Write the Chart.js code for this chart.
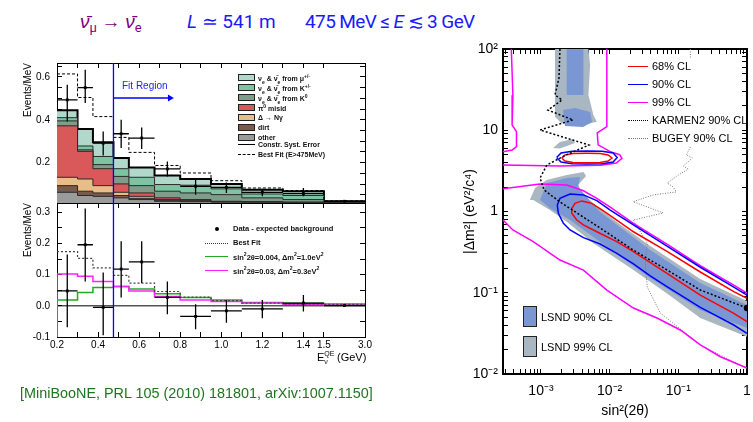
<!DOCTYPE html>
<html>
<head>
<meta charset="utf-8">
<script src="https://cdn.jsdelivr.net/npm/chart.js@4.4.0/dist/chart.umd.min.js"></script>
<style>
  html, body { margin: 0; padding: 0; background: #fff; }
  body { width: 753px; height: 422px; position: relative; overflow: hidden; font-family: 'Liberation Sans', Arial, sans-serif; }
  canvas { position: absolute; }
  .abs { position: absolute; white-space: nowrap; line-height: 1; }
  .ttl { font-family: Roboto, 'Liberation Sans', sans-serif; font-size: 19px; top: 12px; }
  .ttl sub { font-size: 13px; vertical-align: -4px; }
  .leg7 { font-weight: bold; font-size: 7px; color: #111; }
  .leg7 sub, .leg7 sup { font-size: 5px; }
  .sw { position: absolute; width: 17px; height: 7px; box-sizing: border-box; border: 1px solid #222; }
  .ln { position: absolute; height: 0; }
  .leg11 { font-size: 11px; color: #000; }
  .box { position: absolute; width: 14px; height: 21px; box-sizing: border-box; border: 1.5px solid #222; }
</style>
</head>
<body>

<canvas id="histChart" width="380" height="160" style="left:0;top:50px;width:380px;height:160px"></canvas>
<canvas id="excessChart" width="380" height="180" style="left:0;top:195px;width:380px;height:180px"></canvas>
<canvas id="contourChart" width="373" height="382" style="left:380px;top:40px;width:373px;height:382px"></canvas>

<!-- title line -->
<div class="abs ttl" style="left:80px;color:#800080"><i>ν̄</i><sub>μ</sub> → <i>ν̄</i><sub>e</sub></div>
<div class="abs ttl" style="left:187px;color:#1a1aff"><i>L</i> ≃ 541 m</div>
<div class="abs ttl" style="left:305px;color:#1a1aff;letter-spacing:-0.6px">475 MeV ≤ <i>E</i> ≲ 3 GeV</div>

<!-- top-left legend -->
<div class="sw" style="left:238px;top:74px;background:#b2d8cb"></div>
<div class="sw" style="left:238px;top:84px;background:#7cc4a2"></div>
<div class="sw" style="left:238px;top:94px;background:#7e9e8a"></div>
<div class="sw" style="left:238px;top:104px;background:#d9595b"></div>
<div class="sw" style="left:238px;top:114px;background:#e8bd86"></div>
<div class="sw" style="left:238px;top:124px;background:#7b5a4a"></div>
<div class="sw" style="left:238px;top:134px;background:#9b9b9b"></div>
<div class="ln" style="left:238px;top:144px;width:17px;border-top:1.5px solid #000"></div>
<div class="ln" style="left:238px;top:154px;width:17px;border-top:1px dashed #000"></div>
<div class="abs leg7" style="left:258px;top:74px">ν<sub>e</sub> &amp; ν̄<sub>e</sub> from μ<sup>+/-</sup></div>
<div class="abs leg7" style="left:258px;top:84px">ν<sub>e</sub> &amp; ν̄<sub>e</sub> from K<sup>+/-</sup></div>
<div class="abs leg7" style="left:258px;top:94px">ν<sub>e</sub> &amp; ν̄<sub>e</sub> from K<sup>0</sup></div>
<div class="abs leg7" style="left:258px;top:104px">π<sup>0</sup> misid</div>
<div class="abs leg7" style="left:258px;top:114px">Δ → Nγ</div>
<div class="abs leg7" style="left:258px;top:124px">dirt</div>
<div class="abs leg7" style="left:258px;top:134px">other</div>
<div class="abs leg7" style="left:258px;top:141px">Constr. Syst. Error</div>
<div class="abs leg7" style="left:258px;top:151px">Best Fit (E&gt;475MeV)</div>

<div class="abs" style="left:122px;top:81px;font-size:10px;color:#2222ff">Fit Region</div>

<!-- bottom-left legend -->
<div class="abs" style="left:215px;top:227px;width:4px;height:4px;border-radius:2px;background:#000"></div>
<div class="ln" style="left:205px;top:243px;width:23px;border-top:1.2px dotted #333"></div>
<div class="ln" style="left:205px;top:256px;width:23px;border-top:1.5px solid #22aa22"></div>
<div class="ln" style="left:205px;top:270px;width:23px;border-top:1.5px solid #ff22ff"></div>
<div class="abs leg7" style="left:233px;top:225px;font-size:7.5px">Data - expected background</div>
<div class="abs leg7" style="left:233px;top:239px;font-size:7.5px">Best Fit</div>
<div class="abs leg7" style="left:233px;top:252px;font-size:7.5px">sin<sup>2</sup>2θ=0.004, Δm<sup>2</sup>=1.0eV<sup>2</sup></div>
<div class="abs leg7" style="left:233px;top:266px;font-size:7.5px">sin<sup>2</sup>2θ=0.03, Δm<sup>2</sup>=0.3eV<sup>2</sup></div>

<div class="abs" style="left:317px;top:352px;font-size:11px">E<span style="display:inline-block;vertical-align:-3px;font-size:7px;line-height:7px;position:relative"><span style="position:absolute;top:-8px;left:0">QE</span>ν</span>&nbsp;&nbsp;&nbsp;(GeV)</div>

<div class="abs" style="left:20px;top:386px;font-size:14.4px;color:#207520">[MiniBooNE, PRL 105 (2010) 181801, arXiv:1007.1150]</div>

<!-- right legend -->
<div class="ln" style="left:628px;top:66px;width:20px;border-top:1.5px solid #ff0000"></div>
<div class="ln" style="left:628px;top:84px;width:20px;border-top:1.5px solid #0000ff"></div>
<div class="ln" style="left:628px;top:102px;width:20px;border-top:1.5px solid #ff00ff"></div>
<div class="ln" style="left:628px;top:120px;width:20px;border-top:1.5px dotted #000"></div>
<div class="ln" style="left:628px;top:138px;width:20px;border-top:1px dotted #777"></div>
<div class="abs leg11" style="left:652px;top:61px">68% CL</div>
<div class="abs leg11" style="left:652px;top:79px">90% CL</div>
<div class="abs leg11" style="left:652px;top:97px">99% CL</div>
<div class="abs leg11" style="left:652px;top:115px">KARMEN2 90% CL</div>
<div class="abs leg11" style="left:652px;top:133px">BUGEY 90% CL</div>
<div class="box" style="left:523px;top:306px;background:#7b97d3"></div>
<div class="box" style="left:523px;top:336px;background:#a9b7c3"></div>
<div class="abs leg11" style="left:541px;top:312px">LSND 90% CL</div>
<div class="abs leg11" style="left:541px;top:342px">LSND 99% CL</div>

<script>
// ---------- left panels: E_QE bins (GeV) ----------
const binEdges = [0.2, 0.3, 0.375, 0.475, 0.55, 0.675, 0.8, 0.95, 1.1, 1.3, 1.5, 3.0];

// predicted backgrounds, Events/MeV per bin (bottom of stack first)
const bkgOther = [0.062, 0.047, 0.043, 0.036, 0.028, 0.020, 0.018, 0.016, 0.015, 0.014, 0.010];
const bkgDirt  = [0.031, 0.020, 0.016, 0.011, 0.006, 0.003, 0.002, 0.001, 0.001, 0.001, 0.001];
const bkgDelta = [0.039, 0.057, 0.034, 0.015, 0.009, 0.005, 0.003, 0.001, 0.001, 0.000, 0.001];
const bkgPi0   = [0.240, 0.129, 0.079, 0.039, 0.016, 0.008, 0.005, 0.002, 0.001, 0.001, 0.001];
const bkgK0    = [0.023, 0.007, 0.019, 0.035, 0.034, 0.031, 0.031, 0.031, 0.018, 0.012, 0.003];
const bkgKpm   = [0.015, 0.018, 0.038, 0.036, 0.039, 0.031, 0.036, 0.027, 0.018, 0.019, 0.002];
const bkgMu    = [0.035, 0.079, 0.066, 0.050, 0.046, 0.042, 0.029, 0.023, 0.020, 0.020, 0.002];
const histBestFit = [0.614, 0.504, 0.415, 0.318, 0.248, 0.187, 0.152, 0.116, 0.082, 0.070, 0.022];

const histData   = [0.493, 0.550, 0.291, 0.335, 0.315, 0.171, 0.090, 0.085, 0.062, 0.056, 0.020];
const histDataHi = [0.563, 0.633, 0.346, 0.400, 0.364, 0.206, 0.129, 0.108, 0.078, 0.082, 0.025];
const histDataLo = [0.392, 0.478, 0.233, 0.268, 0.264, 0.136, 0.051, 0.059, 0.043, 0.043, 0.015];

// data minus expected background
const excessData   = [0.048, 0.196, -0.005, 0.118, 0.141, 0.027, -0.034, -0.016, -0.010, 0.009, 0.001];
const excessDataHi = [0.165, 0.312, 0.107, 0.207, 0.207, 0.078, 0.005, 0.019, 0.019, 0.035, 0.006];
const excessDataLo = [-0.069, 0.078, -0.094, 0.027, 0.073, -0.027, -0.075, -0.054, -0.040, -0.018, -0.004];
const excessBestFit = [0.174, 0.152, 0.122, 0.098, 0.073, 0.046, 0.028, 0.017, 0.009, 0.006, 0.005];
const excessGreen   = [0.019, 0.043, 0.059, 0.062, 0.054, 0.039, 0.027, 0.019, 0.011, 0.008, 0.006];
const excessMagenta = [0.102, 0.095, 0.078, 0.062, 0.048, 0.030, 0.019, 0.014, 0.009, 0.005, 0.003];

const fitThreshold = 0.475;
const fitArrowE = [0.475, 0.75];
const fitArrowLevel = 0.502;

const histYRange = [0.012, 0.665];
const excessYRange = [-0.1, 0.33];
const xTickLabels = [0.2, 0.4, 0.6, 0.8, 1.0, 1.2, 1.4, 1.5, 3.0];
const xTickMinor = [0.3, 0.5, 0.7, 0.9, 1.1, 1.3];
const histYTicks = [0.2, 0.4, 0.6];
const histYMinor = [0.05, 0.1, 0.15, 0.25, 0.3, 0.35, 0.45, 0.5, 0.55, 0.65];
const excessYTicks = [-0.1, 0.0, 0.1, 0.2, 0.3];
const excessYMinor = [-0.05, 0.05, 0.15, 0.25];

// ---------- right panel: sin^2(2θ), Δm^2 contours ----------
const mbRed68Ellipse = [[2.0e-3, 4.55], [2.24e-3, 4.96], [2.93e-3, 5.18], [4.65e-3, 5.2], [7.27e-3, 5.18], [9.5e-3, 4.96], [1.08e-2, 4.55], [9.5e-3, 4.18], [7.27e-3, 4.01], [4.65e-3, 3.99], [2.93e-3, 4.01], [2.24e-3, 4.18], [2.0e-3, 4.55]];
const mbRed68Band = [[1.0, 0.0855], [0.642, 0.103], [0.209, 0.18], [6.84e-2, 0.324], [2.22e-2, 0.563], [1.27e-2, 0.785], [8.12e-3, 1.02], [5.5e-3, 1.26], [3.93e-3, 1.35], [3.13e-3, 1.26], [2.81e-3, 1.09], [2.81e-3, 0.95], [3.32e-3, 0.785], [4.15e-3, 0.683], [6.5e-3, 0.564], [1.27e-2, 0.425], [2.22e-2, 0.32], [6.84e-2, 0.173], [0.209, 0.0937], [0.642, 0.0559], [1.0, 0.044]];
const mbBlue90Ellipse = [[1.69e-3, 4.62], [1.96e-3, 5.25], [2.84e-3, 5.52], [4.69e-3, 5.56], [7.77e-3, 5.52], [1.125e-2, 5.25], [1.287e-2, 4.62], [1.125e-2, 4.06], [7.77e-3, 3.86], [4.69e-3, 3.84], [2.84e-3, 3.86], [1.96e-3, 4.06], [1.69e-3, 4.62]];
const mbBlue90Band = [[1.0, 0.0937], [0.642, 0.117], [0.209, 0.206], [6.84e-2, 0.376], [2.22e-2, 0.683], [1.02e-2, 1.04], [6.5e-3, 1.36], [4.15e-3, 1.6], [2.65e-3, 1.64], [1.89e-3, 1.45], [1.73e-3, 1.2], [1.79e-3, 0.95], [2.12e-3, 0.716], [2.65e-3, 0.592], [4.15e-3, 0.476], [7.27e-3, 0.398], [1.27e-2, 0.306], [2.22e-2, 0.226], [3.9e-2, 0.161], [6.84e-2, 0.119], [0.209, 0.0662], [0.642, 0.0401], [1.0, 0.0317]];
const mb99Left = [[3.7e-4, 100], [3.9e-4, 27], [3.8e-4, 11.6], [4.4e-4, 9.6], [4.4e-4, 6.3], [3.8e-4, 5.7], [2.8e-4, 5.45]];
const mb99Right = [[9.1e-3, 100], [9.1e-3, 11.1], [6.6e-3, 9.25], [6.8e-3, 6.6], [1.02e-2, 5.45], [1.4e-2, 5.0], [1.51e-2, 4.51], [1.25e-2, 3.95], [7.3e-3, 3.7], [1.9e-3, 3.63], [2.8e-4, 3.74]];
const mb99Upper = [[2.8e-4, 1.9], [9.67e-4, 2.18], [2.37e-3, 2.12], [4.15e-3, 1.8], [6.5e-3, 1.45], [1.02e-2, 1.13], [2.22e-2, 0.716], [6.84e-2, 0.398], [0.209, 0.215], [0.642, 0.124], [1.0, 0.099]];
const mb99Lower = [[2.8e-4, 0.785], [3.9e-4, 0.592], [7.72e-4, 0.425], [1.89e-3, 0.253], [4.15e-3, 0.19], [9.1e-3, 0.108], [2.22e-2, 0.0649], [4.89e-2, 0.0489], [0.107, 0.0348], [0.209, 0.0228], [0.41, 0.0163], [1.0, 0.0118]];

const lsnd99Column = [[1.6e-3, 100], [1.6e-3, 14.7], [2.0e-3, 12.2], [4.15e-3, 11.6], [6.5e-3, 12.7], [5.8e-3, 15.4], [4.91e-3, 27.2], [5.19e-3, 63.5], [4.91e-3, 100], [1.6e-3, 100]];
const lsnd99Blob = [[1.5e-3, 6.05], [1.89e-3, 7.16], [2.93e-3, 7.8], [3.13e-3, 6.97], [1.89e-3, 5.97], [1.5e-3, 6.05]];
const lsnd99Band = [[6.9e-4, 1.39], [8.2e-4, 1.94], [1.21e-3, 2.44], [2.37e-3, 2.81], [4.15e-3, 3.06], [4.54e-3, 2.73], [3.47e-3, 2.12], [4.39e-3, 1.51], [1.27e-2, 0.743], [3.9e-2, 0.376], [0.209, 0.148], [1.0, 0.079], [1.0, 0.0288], [0.209, 0.0489], [6.84e-2, 0.098], [2.22e-2, 0.19], [5.8e-3, 0.406], [2.37e-3, 0.748], [1.35e-3, 1.04], [7.7e-4, 1.39], [6.9e-4, 1.39]];
const lsnd90Column = [[2.37e-3, 100], [4.15e-3, 100], [4.15e-3, 27.2], [2.37e-3, 27.2], [2.37e-3, 100]];
const lsnd90Blob = [[2.09e-3, 17.7], [3.13e-3, 18.8], [5.19e-3, 16.8], [5.55e-3, 12.6], [4.1e-3, 11.0], [2.24e-3, 11.3], [2.09e-3, 17.7]];
const lsnd90Band = [[9.7e-4, 1.39], [1.21e-3, 2.22], [2.37e-3, 2.58], [3.71e-3, 2.66], [3.47e-3, 2.0], [7.27e-3, 0.986], [3.9e-2, 0.336], [0.209, 0.132], [1.0, 0.0707], [1.0, 0.0368], [0.209, 0.0614], [3.9e-2, 0.152], [7.27e-3, 0.422], [2.65e-3, 0.785], [1.35e-3, 1.1], [9.7e-4, 1.39]];

const karmen90 = [[1.89e-3, 100], [1.83e-3, 44], [1.6e-3, 27.2], [2.03e-3, 23.6], [1.26e-3, 17.7], [2.93e-3, 13.4], [9.7e-4, 10.07], [5.0e-3, 6.58], [2.32e-3, 4.96], [1.22e-3, 3.74], [9.7e-4, 2.58], [1.11e-3, 1.84], [1.89e-3, 1.31], [7.27e-3, 0.627], [2.2e-2, 0.336], [6.9e-2, 0.19], [0.209, 0.108], [1.0, 0.0649]];
const bugeyTop = [[0.15, 100], [0.15, 77.5]];
const bugey90 = [[0.15, 6.22], [0.131, 4.96], [0.16, 4.55], [0.118, 3.63], [0.14, 3.33], [0.1, 2.81], [6.9e-2, 2.24], [8.45e-2, 2.0], [9.35e-2, 1.74], [4.32e-2, 1.6], [2.2e-2, 1.32], [6.04e-2, 0.96], [2.2e-2, 0.785], [3.53e-2, 0.409], [3.3e-2, 0.232], [3.53e-2, 0.118], [5.46e-2, 0.0564], [0.107, 0.0358], [0.209, 0.0228], [0.64, 0.0141], [1.0, 0.0119]];

const sinRange = [2.8e-4, 1.0];
const dmRange = [0.01, 100];
const sinTickLabels = { 0.001: '10⁻³', 0.01: '10⁻²', 0.1: '10⁻¹', 1: '1' };
const dmTickLabels = { 0.01: '10⁻²', 0.1: '10⁻¹', 1: '1', 10: '10', 100: '10²' };

// ---------- helpers ----------
const FONT = "'Liberation Sans', Arial, sans-serif";
Chart.defaults.font.family = FONT;
Chart.defaults.color = '#000';

// the last bin (1.5-3.0 GeV) is squeezed, like in the original plot
function axisE(e) { return e <= 1.5 ? e : 1.5 + (e - 1.5) * 0.2 / 1.5; }

function stepPoints(values) {
  const pts = values.map((v, i) => ({ x: axisE(binEdges[i]), y: v }));
  pts.push({ x: axisE(binEdges[binEdges.length - 1]), y: values[values.length - 1] });
  return pts;
}

function binCenter(i) { return axisE((binEdges[i] + binEdges[i + 1]) / 2); }

function errorBarPoints(values, lo, hi) {
  const pts = [];
  values.forEach((v, i) => {
    const c = binCenter(i);
    pts.push({ x: c, y: lo[i] }, { x: c, y: hi[i] }, { x: c, y: null });
    pts.push({ x: axisE(binEdges[i]), y: v }, { x: axisE(binEdges[i + 1]), y: v }, { x: axisE(binEdges[i + 1]), y: null });
  });
  return pts;
}

function pairs(arr) { return arr.map(([x, y]) => ({ x, y })); }

function labelFrom(map) {
  return (v) => {
    for (const k of Object.keys(map)) {
      if (Math.abs(v / Number(k) - 1) < 1e-6) return map[k];
    }
    return '';
  };
}

function makeAxis(o) {
  const vertical = o.position === 'left' || o.position === 'right';
  return {
    type: o.type || 'linear',
    position: o.position,
    min: o.min,
    max: o.max,
    bounds: 'data',
    grid: { display: true, drawOnChartArea: false, drawTicks: true, tickLength: -(o.tick || 5), color: '#000', lineWidth: 1 },
    border: { display: true, color: '#000', width: o.border || 1 },
    ticks: {
      display: !!o.label,
      autoSkip: false,
      maxRotation: 0,
      padding: o.pad || 0,
      color: '#000',
      font: { family: FONT, size: o.fontSize || 10 },
      callback: o.label || (() => ''),
    },
    title: o.title || { display: false },
    afterBuildTicks: (s) => { s.ticks = o.ticks.map((v) => ({ value: v })); },
    afterFit: (s) => {
      if (vertical) s.width = o.size; else s.height = o.size;
      // keep the plot frame exactly where the padding puts it
      s.paddingTop = 0; s.paddingBottom = 0; s.paddingLeft = 0; s.paddingRight = 0;
    },
  };
}

function baseOptions(padding, scales) {
  return {
    responsive: false,
    animation: false,
    events: [],
    layout: { padding },
    plugins: { legend: { display: false }, tooltip: { enabled: false } },
    scales,
  };
}

function lineSet(data, color, width, extra) {
  return Object.assign({
    type: 'line', data, borderColor: color, borderWidth: width,
    backgroundColor: color, pointRadius: 0, fill: false, tension: 0,
  }, extra || {});
}

const xPos = [...xTickLabels, ...xTickMinor].map(axisE);
const xLabel = (v) => {
  const e = xTickLabels.find((t) => Math.abs(axisE(t) - v) < 1e-6);
  return e === undefined ? '' : e.toFixed(1);
};
const xMin = axisE(binEdges[0]);
const xMax = axisE(binEdges[binEdges.length - 1]);

// ---------- top-left: stacked background + data ----------
const layers = [
  { data: bkgOther, color: '#9b9b9b' },
  { data: bkgDirt, color: '#7b5a4a' },
  { data: bkgDelta, color: '#e8bd86' },
  { data: bkgPi0, color: '#d9595b' },
  { data: bkgK0, color: '#7e9e8a' },
  { data: bkgKpm, color: '#7cc4a2' },
  { data: bkgMu, color: '#b2d8cb' },
];
const histSets = [];
let running = binEdges.slice(1).map(() => 0);
layers.forEach((layer, k) => {
  running = running.map((r, i) => r + layer.data[i]);
  const top = k === layers.length - 1;
  histSets.push(lineSet(stepPoints(running), top ? '#000' : '#2a2a2a', top ? 2 : 1, {
    stepped: 'before', fill: 'origin', backgroundColor: layer.color, order: 10 + k,
  }));
});
histSets.push(lineSet(stepPoints(histBestFit), '#000', 1, { stepped: 'before', borderDash: [3, 2], order: 4 }));
histSets.push(lineSet([{ x: fitThreshold, y: histYRange[0] }, { x: fitThreshold, y: histYRange[1] }], '#0000ff', 1.3, { order: 3 }));
histSets.push(lineSet(fitArrowE.map((e) => ({ x: e, y: fitArrowLevel })), '#0000ff', 1.5, {
  order: 3, pointStyle: 'triangle', pointRotation: 90,
  pointRadius: (c) => (c.dataIndex === 1 ? 4 : 0), pointBorderWidth: 0,
}));
histSets.push(lineSet(errorBarPoints(histData, histDataLo, histDataHi), '#000', 1.3, { order: 1 }));
histSets.push(lineSet(histData.map((v, i) => ({ x: binCenter(i), y: v })), '#000', 0, {
  showLine: false, pointStyle: 'rect', pointRadius: 2, order: 0,
}));

new Chart(document.getElementById('histChart'), {
  type: 'line',
  data: { datasets: histSets },
  options: baseOptions({ left: 0, top: 13, right: 15, bottom: 0 }, {
    x: makeAxis({ position: 'bottom', min: xMin, max: xMax, ticks: xPos, size: 7 }),
    x2: makeAxis({ position: 'top', min: xMin, max: xMax, ticks: xPos, size: 0 }),
    y: makeAxis({
      position: 'left', min: histYRange[0], max: histYRange[1], ticks: [...histYTicks, ...histYMinor], size: 57, pad: 12,
      label: (v) => (histYTicks.some((t) => Math.abs(t - v) < 1e-6) ? v.toFixed(1) : ''),
      title: { display: true, text: 'Events/MeV', align: 'end', font: { family: FONT, size: 10 }, padding: { top: 22, bottom: 0 } },
    }),
    y2: makeAxis({ position: 'right', min: histYRange[0], max: histYRange[1], ticks: [...histYTicks, ...histYMinor], size: 0 }),
  }),
});

// ---------- bottom-left: excess ----------
const excessSets = [
  lineSet([{ x: xMin, y: 0 }, { x: xMax, y: 0 }], '#000', 1, { order: 6 }),
  lineSet([{ x: axisE(binEdges[0]), y: excessYRange[0] }, ...stepPoints(excessGreen)], '#22aa22', 1.5, { stepped: 'before', order: 5 }),
  lineSet([{ x: axisE(binEdges[0]), y: excessYRange[0] }, ...stepPoints(excessMagenta)], '#ff22ff', 1.5, { stepped: 'before', order: 4 }),
  lineSet(stepPoints(excessBestFit), '#444', 1.2, { stepped: 'before', borderDash: [2, 2], order: 3 }),
  lineSet([{ x: fitThreshold, y: excessYRange[0] }, { x: fitThreshold, y: excessYRange[1] }], '#0000ff', 1.3, { order: 2 }),
  lineSet(errorBarPoints(excessData, excessDataLo, excessDataHi), '#000', 1.3, { order: 1 }),
  lineSet(excessData.map((v, i) => ({ x: binCenter(i), y: v })), '#000', 0, { showLine: false, pointStyle: 'rect', pointRadius: 2, order: 0 }),
];

new Chart(document.getElementById('excessChart'), {
  type: 'line',
  data: { datasets: excessSets },
  options: baseOptions({ left: 0, top: 8, right: 15, bottom: 0 }, {
    x: makeAxis({ position: 'bottom', min: xMin, max: xMax, ticks: xPos, size: 38, pad: 7, label: xLabel }),
    x2: makeAxis({ position: 'top', min: xMin, max: xMax, ticks: xPos, size: 0 }),
    y: makeAxis({
      position: 'left', min: excessYRange[0], max: excessYRange[1], ticks: [...excessYTicks, ...excessYMinor], size: 57, pad: 12,
      label: (v) => (excessYTicks.some((t) => Math.abs(t - v) < 1e-6) ? v.toFixed(1) : ''),
      title: { display: true, text: 'Events/MeV', align: 'end', font: { family: FONT, size: 10 }, padding: { top: 22, bottom: 0 } },
    }),
    y2: makeAxis({ position: 'right', min: excessYRange[0], max: excessYRange[1], ticks: [...excessYTicks, ...excessYMinor], size: 0 }),
  }),
});

// ---------- right: oscillation contours ----------
function logTicks(min, max) {
  const t = [];
  for (let d = Math.floor(Math.log10(min)); d <= Math.ceil(Math.log10(max)); d++) {
    for (let m = 1; m <= 9; m++) {
      const v = m * Math.pow(10, d);
      if (v >= min * 0.999 && v <= max * 1.001) t.push(v);
    }
  }
  return t;
}
const sinTicks = logTicks(sinRange[0], sinRange[1]);
const dmTicks = logTicks(dmRange[0], dmRange[1]);

const GRAY = '#a9b7c3';
const LBLUE = '#7b97d3';
const shape = (arr, color, order) => lineSet(pairs(arr), color, 0, { fill: 'shape', backgroundColor: color, order });

const contourSets = [
  shape(lsnd99Column, GRAY, 30),
  shape(lsnd99Blob, GRAY, 30),
  shape(lsnd99Band, GRAY, 30),
  shape(lsnd90Column, LBLUE, 29),
  shape(lsnd90Blob, LBLUE, 29),
  shape(lsnd90Band, LBLUE, 29),
  lineSet(pairs(bugeyTop), '#777', 1, { borderDash: [1, 1.5], order: 12 }),
  lineSet(pairs(bugey90), '#777', 1, { borderDash: [1, 1.5], order: 12 }),
  lineSet(pairs(mb99Left), '#ff00ff', 1.5, { order: 8 }),
  lineSet(pairs(mb99Right), '#ff00ff', 1.5, { order: 8 }),
  lineSet(pairs(mb99Upper), '#ff00ff', 1.5, { order: 8 }),
  lineSet(pairs(mb99Lower), '#ff00ff', 1.5, { order: 8 }),
  lineSet(pairs(mbBlue90Ellipse), '#0000ff', 1.5, { order: 6 }),
  lineSet(pairs(mbBlue90Band), '#0000ff', 1.5, { order: 6 }),
  lineSet(pairs(mbRed68Ellipse), '#ff0000', 1.5, { order: 4 }),
  lineSet(pairs(mbRed68Band), '#ff0000', 1.5, { order: 4 }),
  lineSet(pairs(karmen90), '#000', 1.5, {
    borderDash: [2, 2], order: 2,
    pointRadius: (c) => (c.dataIndex === karmen90.length - 1 ? 2.5 : 0), pointBackgroundColor: '#000',
  }),
];

new Chart(document.getElementById('contourChart'), {
  type: 'line',
  data: { datasets: contourSets },
  options: baseOptions({ left: 0, top: 9, right: 6, bottom: 0 }, {
    x: makeAxis({
      type: 'logarithmic', position: 'bottom', min: sinRange[0], max: sinRange[1], ticks: sinTicks, size: 48, pad: 14,
      fontSize: 14, border: 2, label: labelFrom(sinTickLabels),
      title: { display: true, text: 'sin²(2θ)', align: 'center', font: { family: FONT, size: 14 }, padding: { top: 0, bottom: 2 } },
    }),
    x2: makeAxis({ type: 'logarithmic', position: 'top', min: sinRange[0], max: sinRange[1], ticks: sinTicks, size: 0, border: 2 }),
    y: makeAxis({
      type: 'logarithmic', position: 'left', min: dmRange[0], max: dmRange[1], ticks: dmTicks, size: 123, pad: 10,
      fontSize: 14, border: 2, label: labelFrom(dmTickLabels),
      title: { display: true, text: '|Δm²| (eV²/c⁴)', align: 'center', font: { family: FONT, size: 14 }, padding: { top: 82, bottom: 0 } },
    }),
    y2: makeAxis({ type: 'logarithmic', position: 'right', min: dmRange[0], max: dmRange[1], ticks: dmTicks, size: 0, border: 2 }),
  }),
});
</script>
</body>
</html>
